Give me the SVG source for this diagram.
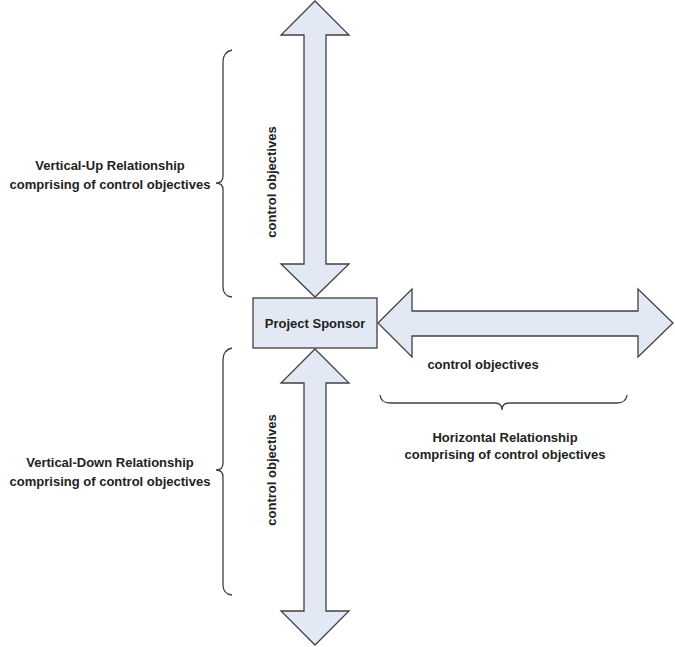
<svg xmlns="http://www.w3.org/2000/svg" width="675" height="647" viewBox="0 0 675 647">
<style>
.a{fill:#e2e9f4;stroke:#404040;stroke-width:1.3}
.b{fill:none;stroke:#404040;stroke-width:1.3}
text{font-family:"Liberation Sans",Arial,sans-serif;font-size:13px;font-weight:bold;fill:#222}
</style>
<rect width="675" height="647" fill="#fff"/>
<g id="connectors">
<polygon class="a" points="315,1 349,35 326,35 326,264 349,264 315,297 281,264 304,264 304,35 281,35"/>
<polygon class="a" points="315,349 349,383 326,383 326,611 349,611 315,645 281,611 304,611 304,383 281,383"/>
<polygon class="a" points="378,323 412,289 412,311 638,311 638,289 673,323 638,357 638,336 412,336 412,357"/>
</g>
<g id="braces">
<path class="b" d="M232,50 Q223,52 223,62 L223,176 Q223,183 216,183 Q223,183 223,190 L223,287 Q223,296 232,297"/>
<path class="b" d="M232,348 Q223,350 223,360 L223,463 Q223,470 216,470 Q223,470 223,477 L223,585 Q223,594 232,595"/>
<path class="b" d="M380,395 Q381,403 390,403 L495,403 Q502,403 502,410 Q502,403 509,403 L617,403 Q626,403 627,395"/>
</g>
<g id="sponsor">
<rect class="a" x="253" y="298" width="124" height="50"/>
<text x="315" y="328" text-anchor="middle">Project Sponsor</text>
</g>
<text transform="translate(276,182) rotate(-90)" text-anchor="middle">control objectives</text>
<text transform="translate(276,470) rotate(-90)" text-anchor="middle">control objectives</text>
<text x="483" y="369" text-anchor="middle">control objectives</text>
<text x="110" y="170" text-anchor="middle">Vertical-Up Relationship</text>
<text x="110" y="189" text-anchor="middle">comprising of control objectives</text>
<text x="110" y="467" text-anchor="middle">Vertical-Down Relationship</text>
<text x="110" y="486" text-anchor="middle">comprising of control objectives</text>
<text x="505" y="442" text-anchor="middle">Horizontal Relationship</text>
<text x="505" y="459" text-anchor="middle">comprising of control objectives</text>
</svg>
